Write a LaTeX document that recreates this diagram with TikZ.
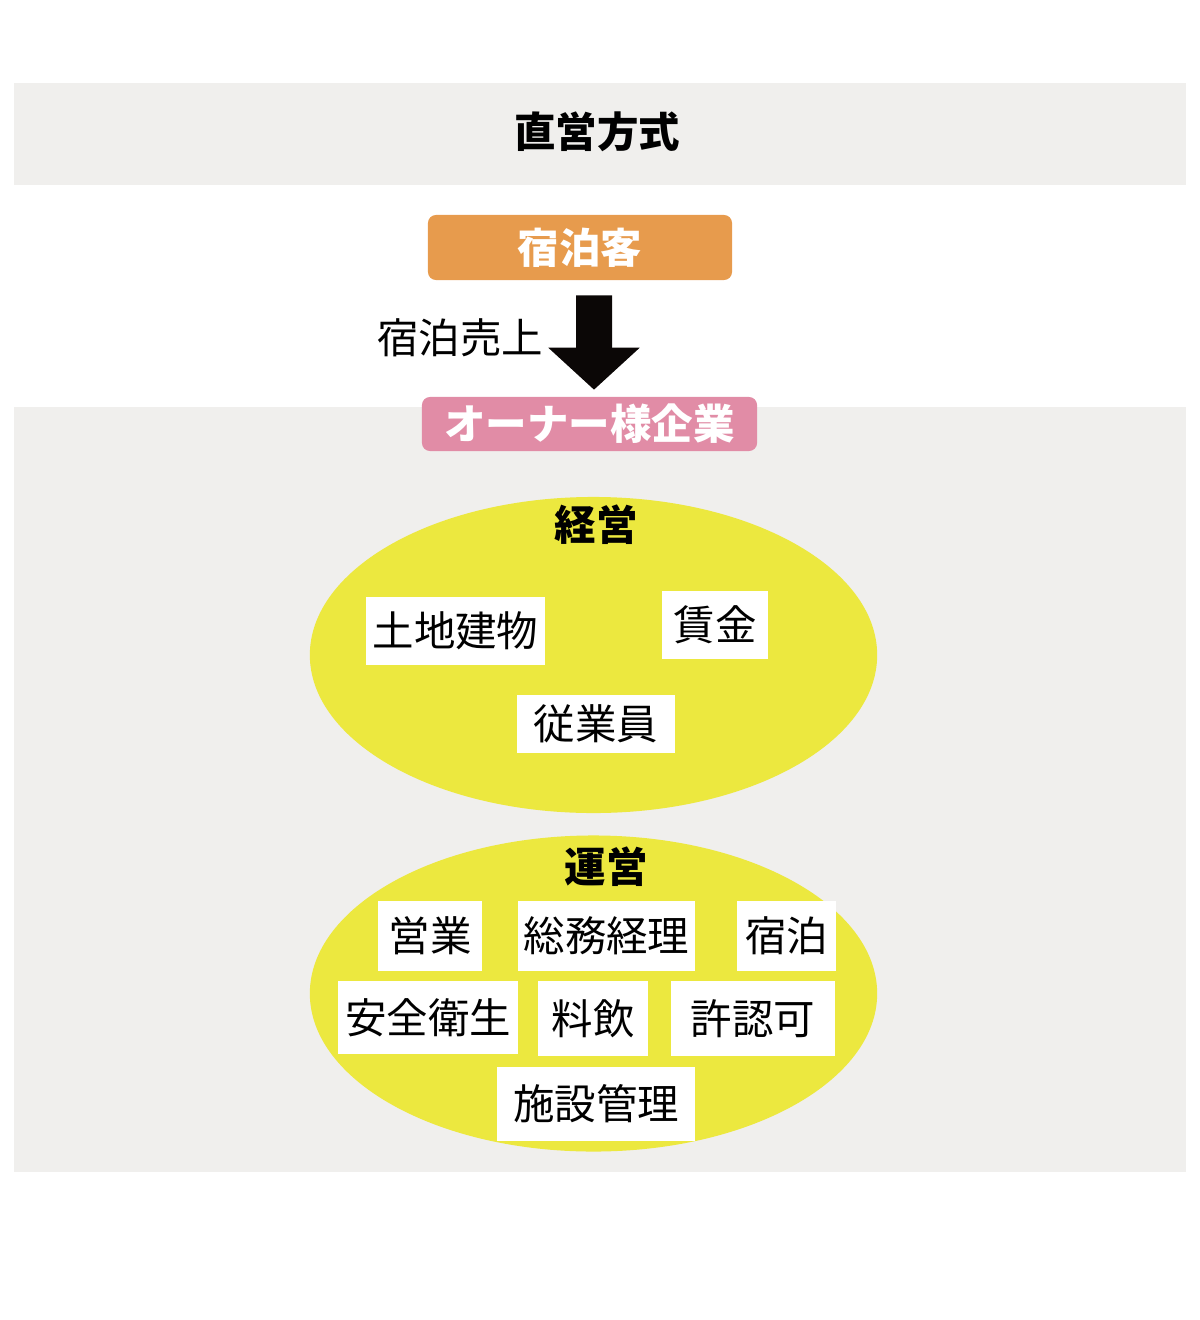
\documentclass[tikz,border=0pt]{standalone}
\usepackage{fontspec}
\usepackage{xcolor}
\usetikzlibrary{arrows.meta, positioning, shapes.geometric}
\newfontfamily\jp{Noto Sans CJK JP}
\definecolor{bggray}{HTML}{F0EFED}
\definecolor{guestorange}{HTML}{E79B4D}
\definecolor{ownerpink}{HTML}{E18CA6}
\definecolor{fieldyellow}{HTML}{ECE83F}
\definecolor{arrowblack}{HTML}{0B0706}
\tikzset{
  tag/.style={rounded corners=0.2cm, text=white, font=\jp\bfseries\fontsize{29.5}{34}\selectfont, inner sep=0pt},
  field/.style={ellipse, fill=fieldyellow, minimum width=14.18cm, minimum height=7.9cm, inner sep=0pt},
  item/.style={fill=white, font=\jp\fontsize{29.5}{34}\selectfont, inner sep=0pt},
  note/.style={font=\jp\fontsize{29.5}{34}\selectfont, inner sep=0pt},
  heading/.style={font=\jp\bfseries\fontsize{29.5}{34}\selectfont, inner sep=0pt},
  money/.style={line width=0.9cm, arrowblack, -{Triangle[width=2.225cm, length=1.05cm]}}
}

\begin{document}
\begin{tikzpicture}[x=0.025cm, y=-0.025cm]
\useasboundingbox (0,0) rectangle (1200,1320);
% Background bands
\fill[bggray] (14,83) rectangle (1186,185);
\fill[bggray] (14,407) rectangle (1186,1172);
\node[heading] (title) at (597,132) {直営方式};

% Guest and owner
\node[tag, fill=guestorange, minimum width=7.6cm, minimum height=1.625cm] (guest) at (580,247.5) {宿泊客};
\node[tag, fill=ownerpink, minimum width=8.375cm, minimum height=1.35cm] (owner) at (589.5,424) {オーナー様企業};
\draw[money, shorten <=0.375cm, shorten >=0.175cm] ([xshift=0.35cm]guest.south) -- ([xshift=0.1125cm]owner.north);
\node[note] (sales) at (460,338) {宿泊売上};

% Management
\node[field] (keiei) at (593.5,655) {};
\node[heading] (keieilabel) at (596,525) {経営};
\node[item, minimum width=4.475cm, minimum height=1.7cm] (land) at (455.5,631) {土地建物};
\node[item, minimum width=2.65cm, minimum height=1.7cm] (wage) at (715,625) {賃金};
\node[item, minimum width=3.95cm, minimum height=1.45cm] (staff) at (596,724) {従業員};

% Operation
\node[field] (unei) at (593.5,993.5) {};
\node[heading] (unneilabel) at (606,867) {運営};
\node[item, minimum width=2.6cm, minimum height=1.75cm] (sales2) at (430,936) {営業};
\node[item, minimum width=4.425cm, minimum height=1.75cm] (admin) at (606.5,936) {総務経理};
\node[item, minimum width=2.475cm, minimum height=1.75cm] (stay) at (786.5,936) {宿泊};
\node[item, minimum width=4.5cm, minimum height=1.825cm] (safety) at (428,1017.5) {安全衛生};
\node[item, minimum width=2.75cm, minimum height=1.875cm] (food) at (593,1018.5) {料飲};
\node[item, minimum width=4.1cm, minimum height=1.875cm] (permit) at (753,1018.5) {許認可};
\node[item, minimum width=4.95cm, minimum height=1.85cm] (facility) at (596,1104) {施設管理};
\end{tikzpicture}
\end{document}
